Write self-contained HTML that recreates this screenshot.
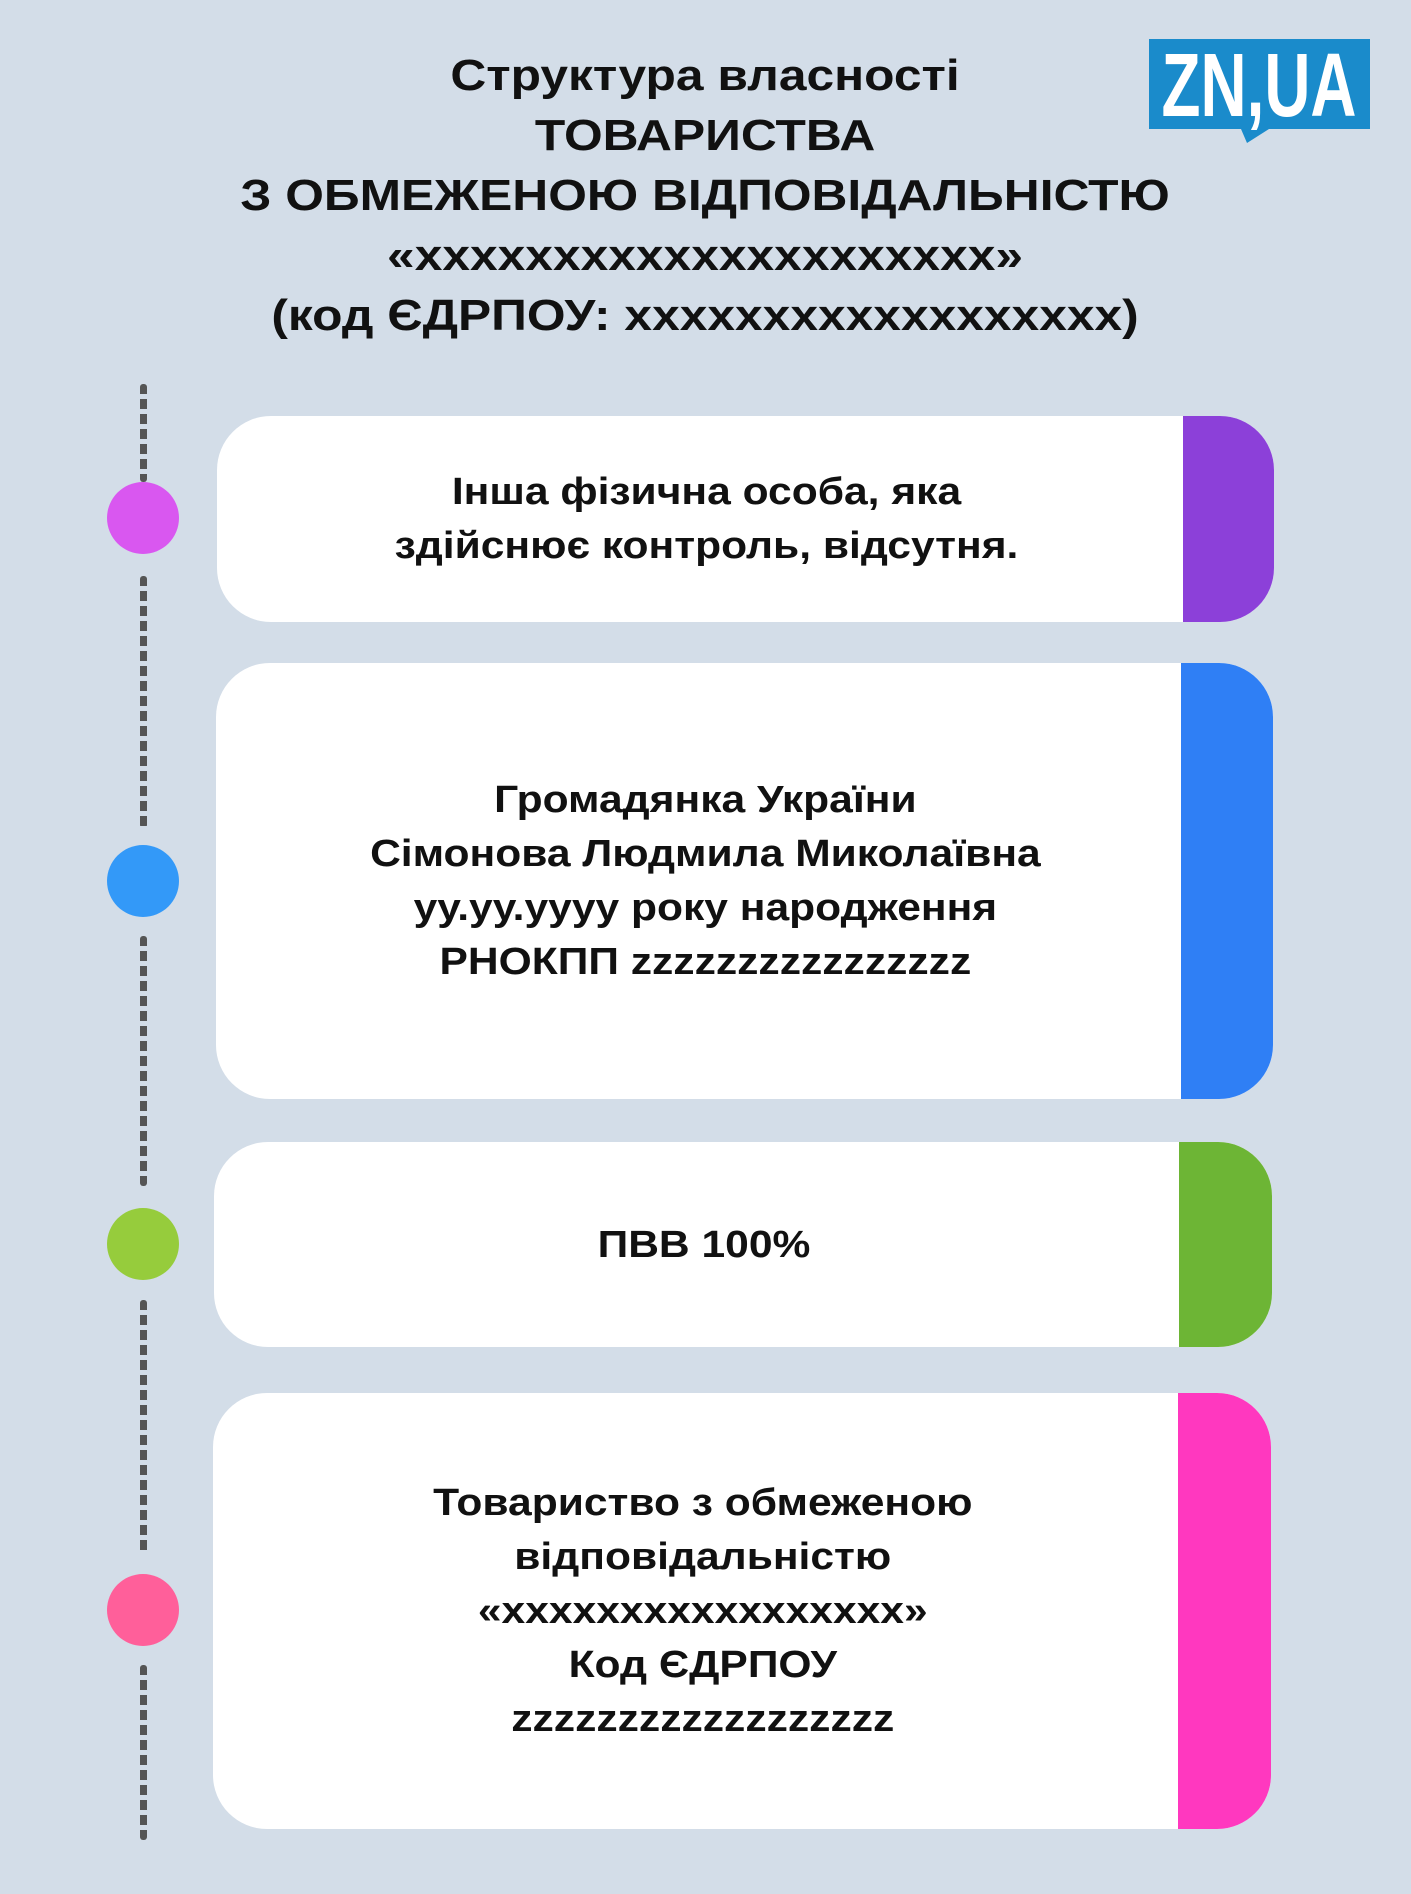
<!DOCTYPE html>
<html><head><meta charset="utf-8"><style>
body{margin:0;width:1411px;height:1894px;background:#d3dde8;position:relative;overflow:hidden;font-family:"Liberation Sans","DejaVu Sans",sans-serif;}
.t{position:absolute;left:0;width:1411px;text-align:center;font-weight:bold;color:#111;white-space:nowrap}
.title{font-size:44px;line-height:60px;top:46px;transform:scaleX(1.13);transform-origin:709px 0}
.card{position:absolute;background:#fff;border-radius:54px;overflow:hidden}
.strip{position:absolute;top:0;right:0;bottom:0}
.ct{position:absolute;left:0;right:78px;text-align:center;font-weight:bold;font-size:38px;line-height:54px;color:#111;display:flex;flex-direction:column;justify-content:center;align-items:center;top:0;bottom:0;white-space:nowrap}
.ct span{display:inline-block;transform:scaleX(1.12)}
.dot{position:absolute;width:72px;height:72px;border-radius:50%;left:107px}
.dash{position:absolute;left:140px;width:7px;border-radius:3px;background:repeating-linear-gradient(#555 0 10px,transparent 10px 15px)}
</style></head><body>
<div class="t title">Структура власності<br>ТОВАРИСТВА<br>З ОБМЕЖЕНОЮ ВІДПОВІДАЛЬНІСТЮ<br>«ххххххххххххххххххххх»<br>(код ЄДРПОУ: хххххххххххххххххх)</div>
<svg style="position:absolute;left:1149px;top:39px" width="221" height="106"><path d="M0 0H221V90H120L98 104L92 90H0Z" fill="#1a8bcb"/>
<text x="110" y="77" text-anchor="middle" font-family="Liberation Sans Narrow,Liberation Sans,sans-serif" font-weight="bold" font-size="90" fill="#fff" textLength="195" lengthAdjust="spacingAndGlyphs">ZN,UA</text></svg>

<div class="dash" style="top:384px;height:98px"></div>
<div class="dash" style="top:576px;height:252px"></div>
<div class="dash" style="top:936px;height:250px"></div>
<div class="dash" style="top:1300px;height:255px"></div>
<div class="dash" style="top:1665px;height:175px"></div>
<div class="dot" style="top:482px;background:#d957f0"></div>
<div class="dot" style="top:845px;background:#3399f8"></div>
<div class="dot" style="top:1208px;background:#96cc3c"></div>
<div class="dot" style="top:1574px;background:#ff5f9a"></div>

<div class="card" style="left:217px;top:416px;width:1057px;height:206px"><div class="strip" style="width:91px;background:#8c40d9"></div><div class="ct"><span>Інша фізична особа, яка<br>здійснює контроль, відсутня.</span></div></div>
<div class="card" style="left:216px;top:663px;width:1057px;height:436px"><div class="strip" style="width:92px;background:#2f7ff5"></div><div class="ct"><span>Громадянка України<br>Сімонова Людмила Миколаївна<br>уу.уу.уууу року народження<br>РНОКПП zzzzzzzzzzzzzzzz</span></div></div>
<div class="card" style="left:214px;top:1142px;width:1058px;height:205px"><div class="strip" style="width:93px;background:#6db535"></div><div class="ct"><span>ПВВ 100%</span></div></div>
<div class="card" style="left:213px;top:1393px;width:1058px;height:436px"><div class="strip" style="width:93px;background:#ff38bf"></div><div class="ct"><span>Товариство з обмеженою<br>відповідальністю<br>«ххххххххххххххххх»<br>Код ЄДРПОУ<br>zzzzzzzzzzzzzzzzzz</span></div></div>
</body></html>
